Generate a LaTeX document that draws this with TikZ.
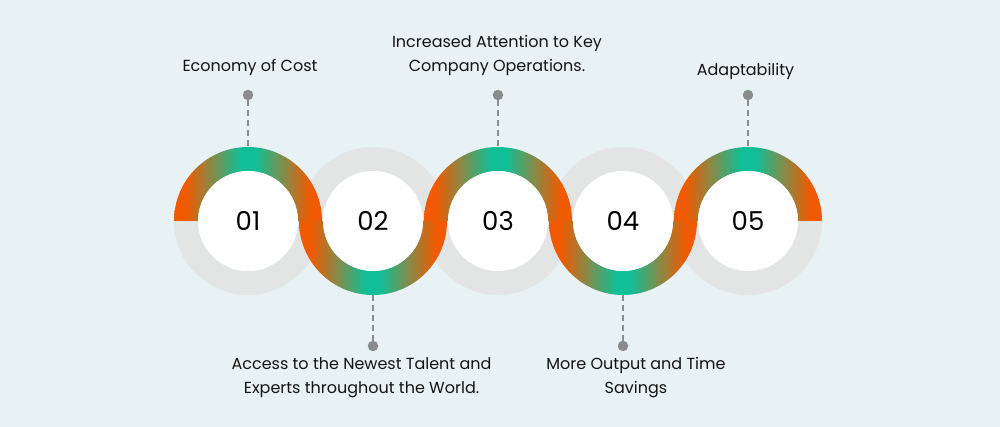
\documentclass[tikz,border=0pt]{standalone}
\usepackage{fontspec}
\setmainfont{Poppins}
\definecolor{bgblue}{HTML}{E8F1F4}
\definecolor{ringgray}{HTML}{E3E5E4}
\definecolor{orng}{HTML}{F05A02}
\definecolor{grn}{HTML}{10BF97}
\definecolor{dotgray}{HTML}{8A8B8D}
\definecolor{txt}{HTML}{141414}
\pgfdeclarehorizontalshading{ringgrad}{100bp}{color(0bp)=(orng); color(29bp)=(orng); color(47.5bp)=(grn); color(52.5bp)=(grn); color(71bp)=(orng); color(100bp)=(orng)}
\begin{document}
\begin{tikzpicture}[x=1pt,y=1pt,
    labeltext/.style={font=\fontsize{16}{24}\selectfont, text=txt, align=center, inner sep=0pt},
    numtext/.style={font=\fontsize{26}{26}\selectfont, text=black},
    stem/.style={dotgray, line width=2pt, dash pattern=on 6pt off 4pt},
    pindot/.style={circle, fill=dotgray, minimum size=10.5pt, inner sep=0pt}]
  \fill[bgblue] (0,0) rectangle (1000,427);
  \useasboundingbox (0,0) rectangle (1000,427);
  % ring centres
  \path
    (248,206) coordinate (c1)
    (373,206) coordinate (c2)
    (498,206) coordinate (c3)
    (623,206) coordinate (c4)
    (748,206) coordinate (c5);
  % grey halves
  \foreach \c in {c1,c3,c5}
    \fill[ringgray] (\c) ++(74,0) arc[start angle=0, end angle=-180, radius=74]
      -- ++(24,0) arc[start angle=180, end angle=360, radius=50] -- cycle;
  \foreach \c in {c2,c4}
    \fill[ringgray] (\c) ++(-74,0) arc[start angle=180, end angle=0, radius=74]
      -- ++(-24,0) arc[start angle=0, end angle=180, radius=50] -- cycle;
  % coloured halves
  \foreach \c in {c1,c3,c5}
    \shade[shading=ringgrad] (\c) ++(-74,0) arc[start angle=180, end angle=0, radius=74]
      -- ++(-24,0) arc[start angle=0, end angle=180, radius=50] -- cycle;
  \foreach \c in {c2,c4}
    \shade[shading=ringgrad] (\c) ++(74,0) arc[start angle=0, end angle=-180, radius=74]
      -- ++(24,0) arc[start angle=180, end angle=360, radius=50] -- cycle;
  \foreach \c in {c1,c2,c3,c4,c5}
    \fill[white] (\c) circle[radius=50];
  % numbers
  \path
    (c1) node[numtext] (n1) {01}
    (c2) node[numtext] (n2) {02}
    (c3) node[numtext] (n3) {03}
    (c4) node[numtext] (n4) {04}
    (c5) node[numtext] (n5) {05};
  % pins
  \path
    (248,280) coordinate (t1)
    (373,132) coordinate (t2)
    (498,280) coordinate (t3)
    (623,132) coordinate (t4)
    (748,280) coordinate (t5)
    (248,332) node[pindot] (d1) {}
    (373,81) node[pindot] (d2) {}
    (498,332) node[pindot] (d3) {}
    (623,81) node[pindot] (d4) {}
    (748,332) node[pindot] (d5) {};
  \draw[stem] (d1) -- (t1);
  \draw[stem] (d2) -- (t2);
  \draw[stem] (d3) -- (t3);
  \draw[stem] (d4) -- (t4);
  \draw[stem] (d5) -- (t5);
  % labels (base = last line)
  \path
    (250,355) node[labeltext, anchor=base] (l1) {Economy of Cost}
    (361.5,33) node[labeltext, anchor=base] (l2) {Access to the Newest Talent and\\Experts throughout the World.}
    (497,355.5) node[labeltext, anchor=base] (l3) {Increased Attention to Key\\Company Operations.}
    (636,33.5) node[labeltext, anchor=base] (l4) {More Output and Time\\Savings}
    (745.5,351) node[labeltext, anchor=base] (l5) {Adaptability};
\end{tikzpicture}
\end{document}
